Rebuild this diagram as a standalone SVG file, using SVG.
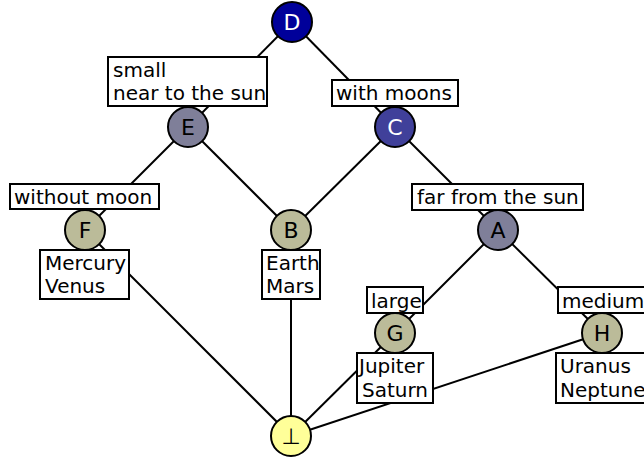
<svg xmlns="http://www.w3.org/2000/svg" width="644" height="464" viewBox="0 0 644 464">
<style>
.e{stroke:#000;stroke-width:2;fill:none}
.n{stroke:#000;stroke-width:2}
.nt{font-family:"DejaVu Sans",sans-serif;font-size:22px;text-anchor:middle;dominant-baseline:central}
.lb{fill:#fff;stroke:#000;stroke-width:2}
.lt{font-family:"DejaVu Sans",sans-serif;font-size:20px;fill:#000}
</style>
<rect width="644" height="464" fill="#fff"/>
<g id="edges">
<line class="e" x1="292" y1="22" x2="188" y2="127"/>
<line class="e" x1="292" y1="22" x2="395" y2="127"/>
<line class="e" x1="188" y1="127" x2="85" y2="230"/>
<line class="e" x1="188" y1="127" x2="291" y2="230"/>
<line class="e" x1="395" y1="127" x2="291" y2="230"/>
<line class="e" x1="395" y1="127" x2="498" y2="230"/>
<line class="e" x1="498" y1="230" x2="395" y2="333"/>
<line class="e" x1="498" y1="230" x2="602" y2="333"/>
<line class="e" x1="85" y1="230" x2="291" y2="436"/>
<line class="e" x1="291" y1="230" x2="291" y2="436"/>
<line class="e" x1="395" y1="333" x2="291" y2="436"/>
<line class="e" x1="602" y1="333" x2="291" y2="436"/>
</g>
<g id="D"><circle class="n" cx="292" cy="22" r="20" fill="#00009a"/><text class="nt" x="292" y="22" fill="#fff">D</text></g>
<g id="E"><circle class="n" cx="188" cy="127" r="20" fill="#7f7f99"/><text class="nt" x="188" y="127">E</text></g>
<g id="C"><circle class="n" cx="395" cy="127" r="20" fill="#40409a"/><text class="nt" x="395" y="127" fill="#fff">C</text></g>
<g id="F"><circle class="n" cx="85" cy="230" r="20" fill="#bbbb99"/><text class="nt" x="85" y="230">F</text></g>
<g id="B"><circle class="n" cx="291" cy="230" r="20" fill="#bbbb99"/><text class="nt" x="291" y="230">B</text></g>
<g id="A"><circle class="n" cx="498" cy="230" r="20" fill="#7f7f99"/><text class="nt" x="498" y="230">A</text></g>
<g id="G"><circle class="n" cx="395" cy="333" r="20" fill="#bbbb99"/><text class="nt" x="395" y="333">G</text></g>
<g id="H"><circle class="n" cx="602" cy="333" r="20" fill="#bbbb99"/><text class="nt" x="602" y="333">H</text></g>
<g id="bottom"><circle class="n" cx="291" cy="436" r="20" fill="#ffff99"/><text class="nt" x="291" y="436">⊥</text></g>
<g id="label-E"><rect class="lb" x="108" y="57" width="159" height="49"/><text class="lt" x="113" y="77">small</text><text class="lt" x="113" y="100">near to the sun</text></g>
<g id="label-C"><rect class="lb" x="332" y="80" width="126" height="26"/><text class="lt" x="336" y="100">with moons</text></g>
<g id="label-F"><rect class="lb" x="10" y="184" width="149" height="25"/><text class="lt" x="14" y="204">without moon</text></g>
<g id="label-A"><rect class="lb" x="412" y="184" width="171" height="26"/><text class="lt" x="417" y="204">far from the sun</text></g>
<g id="ext-F"><rect class="lb" x="40" y="250" width="89" height="49"/><text class="lt" x="45" y="270">Mercury</text><text class="lt" x="45" y="293">Venus</text></g>
<g id="ext-B"><rect class="lb" x="262" y="250" width="58" height="49"/><text class="lt" x="266" y="270">Earth</text><text class="lt" x="266" y="293">Mars</text></g>
<g id="label-G"><rect class="lb" x="367" y="287" width="56" height="26"/><text class="lt" x="371" y="308">large</text></g>
<g id="label-H"><rect class="lb" x="558" y="287" width="90" height="26"/><text class="lt" x="562" y="308">medium</text></g>
<g id="ext-G"><rect class="lb" x="357" y="353" width="76" height="50"/><text class="lt" x="359" y="373">Jupiter</text><text class="lt" x="362" y="397">Saturn</text></g>
<g id="ext-H"><rect class="lb" x="556" y="353" width="92" height="50"/><text class="lt" x="560" y="373">Uranus</text><text class="lt" x="560" y="397">Neptune</text></g>
</svg>
